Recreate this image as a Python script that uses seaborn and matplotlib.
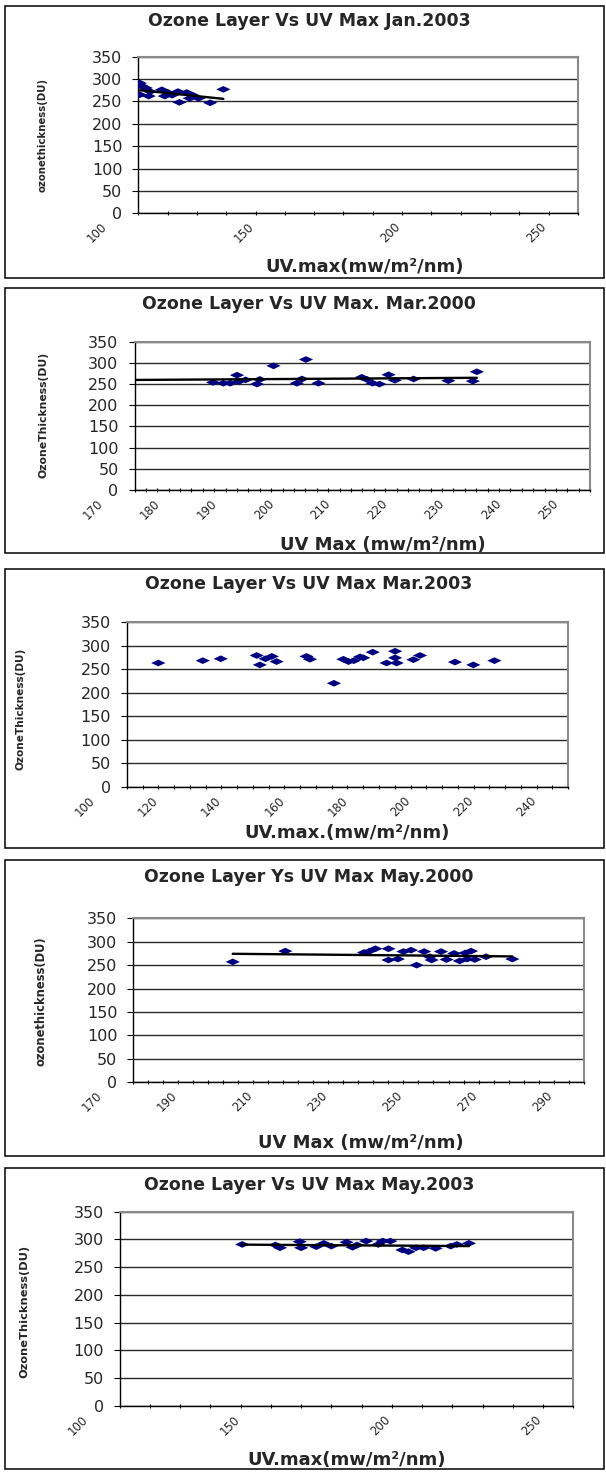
import numpy as np
import matplotlib
matplotlib.use("Agg")
import matplotlib.pyplot as plt
import matplotlib.transforms as mtransforms
from matplotlib.patches import Rectangle
from matplotlib.path import Path
import pandas as pd
import seaborn as sns

# ---------------- data ----------------
jan03_uv = [100.5, 101.0, 100.5, 102.5, 103.5, 104.0, 108.0, 109.0, 110.0, 111.5,
            113.5, 114.0, 116.5, 117.5, 118.5, 120.5, 124.5, 129.0]
jan03_oz = [291, 285, 265, 280, 262, 272, 276, 262, 270, 264,
            272, 248, 270, 257, 264, 257, 247, 277]

mar00_uv = [183.8, 185.6, 186.8, 188.0, 188.3, 189.5, 191.5, 192.0, 194.4, 198.5,
            199.4, 200.1, 202.3, 209.9, 210.8, 211.8, 213.0, 214.6, 215.7, 219.0,
            225.1, 229.4, 230.1]
mar00_oz = [254, 252, 252, 271, 256, 260, 250, 261, 293, 252,
            262, 308, 252, 266, 261, 252, 250, 272, 259, 262,
            258, 257, 279]

mar03_uv = [110.0, 124.1, 129.8, 141.2, 142.2, 144.0, 146.0, 147.5, 157.0, 158.1,
            165.7, 168.7, 170.3, 172.0, 174.0, 175.0, 178.0, 182.4, 185.1, 185.1,
            185.6, 190.9, 193.0, 204.1, 209.9, 216.6]
mar03_oz = [263, 268, 272, 279, 259, 272, 277, 266, 277, 271,
            220, 271, 266, 268, 276, 274, 286, 263, 288, 274,
            263, 270, 279, 265, 259, 268]

may00_uv = [196.5, 210.5, 231.5, 233.0, 234.5, 238.0, 238.0, 240.5, 242.0, 244.0,
            245.5, 247.5, 249.0, 249.5, 252.0, 253.5, 255.5, 257.0, 258.5, 259.0,
            260.0, 261.0, 264.0, 271.0]
may00_oz = [257, 280, 277, 280, 285, 285, 261, 263, 279, 282,
            250, 279, 268, 261, 279, 262, 275, 259, 276, 263,
            280, 262, 268, 263]

may03_uv = [140.5, 151.5, 153.0, 159.5, 160.0, 165.0, 167.5, 170.0, 175.0, 177.0,
            178.5, 181.5, 185.5, 187.0, 189.5, 193.5, 195.5, 198.0, 200.5, 204.5,
            209.5, 211.5, 215.5]
may03_oz = [291, 290, 285, 296, 285, 287, 293, 288, 295, 286,
            290, 297, 291, 297, 297, 281, 278, 285, 285, 284,
            288, 291, 293]

titles = ["Ozone Layer Vs UV Max Jan.2003",
          "Ozone Layer Vs UV Max. Mar.2000",
          "Ozone Layer Vs UV Max Mar.2003",
          "Ozone Layer Ys UV Max May.2000",
          "Ozone Layer Vs UV Max May.2003"]
xlabels = ["UV.max(mw/m\u00b2/nm)",
           "UV Max (mw/m\u00b2/nm)",
           "UV.max.(mw/m\u00b2/nm)",
           "UV Max (mw/m\u00b2/nm)",
           "UV.max(mw/m\u00b2/nm)"]
ylabels = ["ozonethickness(DU)",
           "OzoneThickness(DU)",
           "OzoneThickness(DU)",
           "ozonethickness(DU)",
           "OzoneThickness(DU)"]
y_ticks = [0, 50, 100, 150, 200, 250, 300, 350]

# ---------------- layout (pixels) ----------------
W, H = 606, 1472
layout = [
    # plot area L, R, T, B ; x range, major, minor step ; frame top/bottom ;
    # title y ; xlabel (cx, cy) ; ylabel (cx, cy, size) ; trend start
    dict(L=138.4, R=577.8, T=56.7, B=213.3, xr=(100, 250), maj=50, mnr=10,
         box=(6, 278), ty=21, xl=(365, 267), yl=(43, 135, 7.3), trend="data"),
    dict(L=134.5, R=590.2, T=341.7, B=490.0, xr=(170, 250), maj=10, mnr=2,
         box=(288, 553), ty=304, xl=(383, 545), yl=(43.5, 415, 7.8), trend="axis"),
    dict(L=126.8, R=568.2, T=622.0, B=787.0, xr=(100, 240), maj=20, mnr=5,
         box=(569, 848), ty=584, xl=(347, 833), yl=(21, 709, 7.6), trend=None),
    dict(L=133.3, R=583.6, T=918.3, B=1082.3, xr=(170, 290), maj=20, mnr=4,
         box=(860, 1156), ty=877, xl=(361, 1143), yl=(41.5, 1001, 8.3), trend="data"),
    dict(L=119.8, R=573.2, T=1211.7, B=1406.0, xr=(100, 250), maj=50, mnr=10,
         box=(1168, 1469), ty=1185, xl=(347, 1460), yl=(24, 1311, 8.2), trend="data"),
]
series = [(jan03_uv, jan03_oz), (mar00_uv, mar00_oz), (mar03_uv, mar03_oz),
          (may00_uv, may00_oz), (may03_uv, may03_oz)]

sns.set_theme(style="white")
plt.rcParams['font.family'] = ['DejaVu Sans']

fig = plt.figure(figsize=(W / 100, H / 100), dpi=100)
fig.patch.set_facecolor("white")

# flattened diamond marker
diamond = Path([(-1.0, 0.0), (0.0, 0.47), (1.0, 0.0), (0.0, -0.47), (-1.0, 0.0)],
               [Path.MOVETO, Path.LINETO, Path.LINETO, Path.LINETO, Path.CLOSEPOLY])

label_shift = mtransforms.ScaledTranslation(-38 / 100, -2 / 100, fig.dpi_scale_trans)

for i, (cfg, (uv, oz)) in enumerate(zip(layout, series)):
    L, R, T, B = cfg["L"], cfg["R"], cfg["T"], cfg["B"]

    # chart frame
    b0, b1 = cfg["box"]
    fig.add_artist(Rectangle((5 / W, 1 - b1 / H), (604 - 5) / W, (b1 - b0) / H,
                             transform=fig.transFigure, fill=False,
                             edgecolor="black", linewidth=1.1))

    ax = fig.add_axes([L / W, 1 - B / H, (R - L) / W, (B - T) / H])
    ax.set_facecolor("white")

    df = pd.DataFrame({"uv": uv, "ozone": oz})
    sns.scatterplot(data=df, x="uv", y="ozone", ax=ax, marker=diamond, s=105,
                    color="#000080", edgecolor="none", linewidth=0, zorder=3)

    if cfg["trend"] is not None:
        k, c = np.polyfit(df["uv"], df["ozone"], 1)
        x0 = cfg["xr"][0] if cfg["trend"] == "axis" else df["uv"].min()
        xs = np.array([x0, df["uv"].max()])
        ax.plot(xs, k * xs + c, color="black", linewidth=1.7, zorder=4)

    x_lo, x_hi = cfg["xr"]
    ax.set_xlim(x_lo, x_hi)
    ax.set_ylim(0, 350)
    ax.set_xticks(np.arange(x_lo, x_hi + 0.5, cfg["maj"]))
    ax.set_xticks(np.arange(x_lo, x_hi + 0.5, cfg["mnr"]), minor=True)
    ax.set_yticks(y_ticks)
    ax.grid(axis="y", color="#2a2a2a", linewidth=1.0)
    ax.grid(axis="x", visible=False)
    ax.set_axisbelow(True)

    for side in ("left", "bottom"):
        ax.spines[side].set_color("black")
        ax.spines[side].set_linewidth(1.0)
    for side in ("top", "right"):
        ax.spines[side].set_color("#8a8a8a")
        ax.spines[side].set_linewidth(1.5)

    ax.tick_params(axis="y", which="major", direction="out", length=4.5, width=0.8,
                   color="black", labelsize=11.5, pad=7, left=True)
    ax.tick_params(axis="x", which="both", direction="inout", length=3.5, width=0.8,
                   color="black", bottom=True, pad=2)
    ax.tick_params(axis="x", which="major", labelsize=8.5)
    for lab in ax.get_xticklabels():
        lab.set_rotation(45)
        lab.set_ha("right")
        lab.set_va("top")
        lab.set_rotation_mode("anchor")
        lab.set_transform(lab.get_transform() + label_shift)

    # title and axis titles placed in axes fractions
    ax.set_title(titles[i], x=(309 - L) / (R - L), y=(B - cfg["ty"]) / (B - T),
                 fontsize=12.5, fontweight="bold", va="center", ha="center", pad=0)
    ax.set_xlabel(xlabels[i], fontsize=13, fontweight="bold")
    ax.xaxis.set_label_coords((cfg["xl"][0] - L) / (R - L), (B - cfg["xl"][1]) / (B - T))
    ax.xaxis.label.set_va("center")
    ycx, ycy, ysz = cfg["yl"]
    ax.set_ylabel(ylabels[i], fontsize=ysz, fontweight="bold")
    ax.yaxis.set_label_coords((ycx - L) / (R - L), (B - ycy) / (B - T))
    ax.yaxis.label.set_va("center")
    ax.yaxis.label.set_ha("center")

fig.savefig("out.png", dpi=100, facecolor="white")
